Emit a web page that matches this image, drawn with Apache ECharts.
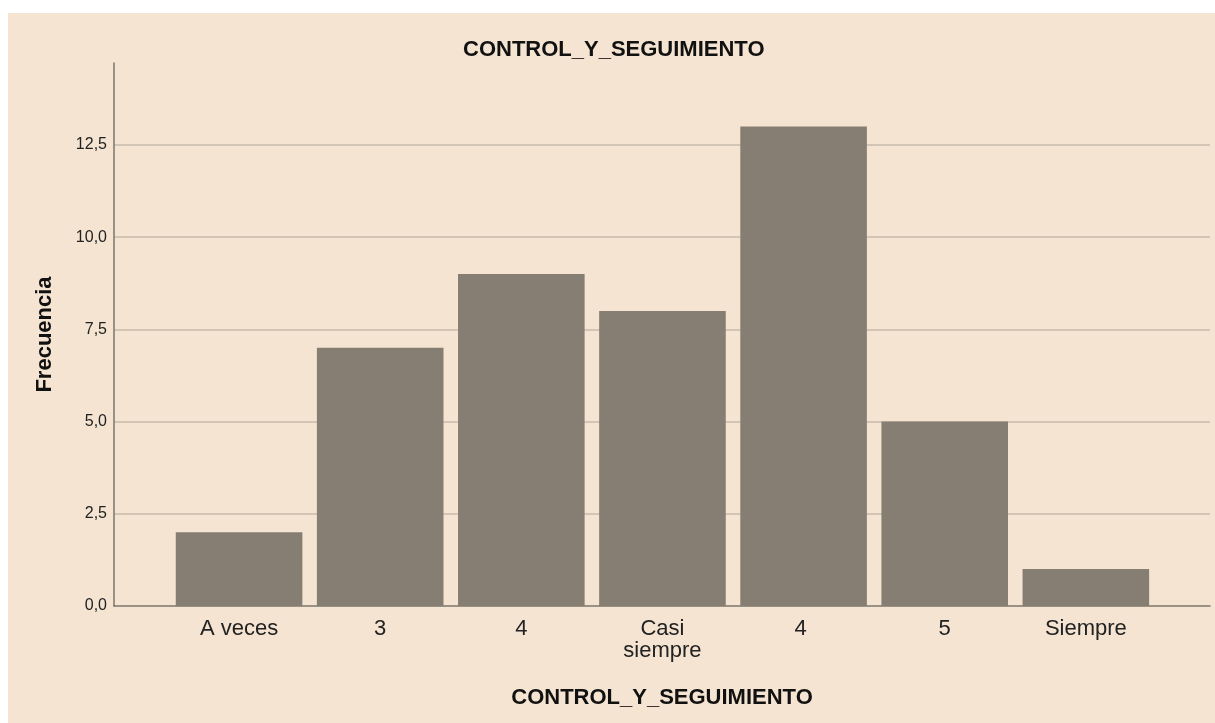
<!DOCTYPE html>
<html>
<head>
<meta charset="utf-8">
<script src="https://cdn.jsdelivr.net/npm/echarts@6/dist/echarts.min.js"></script>
<style>
html,body{margin:0;padding:0;background:#ffffff;}
#chart{width:1215px;height:723px;}
</style>
</head>
<body>
<div id="chart"></div>
<script>
const categories = ['A veces', '3', '4', 'Casi\nsiempre', '4 ', '5', 'Siempre'];
const frecuencia = [2, 7, 9, 8, 13, 5, 1];
const yTicks = [0, 2.5, 5, 7.5, 10, 12.5];
const yMax = 14.72;
const title = 'CONTROL_Y_SEGUIMIENTO';
const xName = 'CONTROL_Y_SEGUIMIENTO';
const yName = 'Frecuencia';

const BG = '#F4E4D1';
const BAR = '#867E72';
const GRID = '#C7BBAB';
const AXIS = '#7C756C';
const FONT = 'Liberation Sans, Arial, sans-serif';

const chart = echarts.init(document.getElementById('chart'), null, {renderer: 'canvas'});
chart.setOption({
  backgroundColor: '#ffffff',
  animation: false,
  graphic: [{
    type: 'rect', z: -10, silent: true,
    shape: {x: 8, y: 13, width: 1215 - 8, height: 723 - 13},
    style: {fill: BG}
  }],
  title: {
    text: title, left: 458, top: 34,
    textStyle: {fontFamily: FONT, fontSize: 22, fontWeight: 'bold', color: '#111'}
  },
  grid: [
    {left: 114, right: 5, top: 63, bottom: 117},
    {left: 168.5, right: 58.6, top: 63, bottom: 117}
  ],
  xAxis: [
    {
      gridIndex: 0, type: 'value', min: 0, max: 1,
      axisLine: {show: true, lineStyle: {color: AXIS, width: 1.5}},
      axisTick: {show: false}, axisLabel: {show: false}, splitLine: {show: false},
      name: xName, nameLocation: 'middle', nameGap: 81,
      nameTextStyle: {fontFamily: FONT, fontSize: 22, fontWeight: 'bold', color: '#111'}
    },
    {
      gridIndex: 1, type: 'category', data: categories,
      axisLine: {show: false}, axisTick: {show: false},
      axisLabel: {margin: 12, fontFamily: FONT, fontSize: 22, lineHeight: 22, color: '#222', interval: 0}
    }
  ],
  yAxis: [
    {
      gridIndex: 0, type: 'value', min: 0, max: yMax, interval: 2.5,
      axisLine: {show: true, lineStyle: {color: AXIS, width: 1.5}},
      axisTick: {show: false},
      axisLabel: {
        margin: 7, fontFamily: FONT, fontSize: 16, color: '#222', showMaxLabel: false,
        formatter: v => yTicks.includes(v) ? v.toFixed(1).replace('.', ',') : ''
      },
      splitLine: {show: true, showMinLine: false, showMaxLine: false, lineStyle: {color: GRID, width: 1.5}},
      name: yName, nameLocation: 'middle', nameGap: 58, nameRotate: 90,
      nameTextStyle: {fontFamily: FONT, fontSize: 22, fontWeight: 'bold', color: '#111'}
    },
    {
      gridIndex: 1, type: 'value', min: 0, max: yMax, show: false, splitLine: {show: false}
    }
  ],
  series: [{
    type: 'bar', xAxisIndex: 1, yAxisIndex: 1, data: frecuencia,
    barCategoryGap: '10.3%',
    itemStyle: {color: BAR},
    z: 5
  }]
});
</script>
</body>
</html>
